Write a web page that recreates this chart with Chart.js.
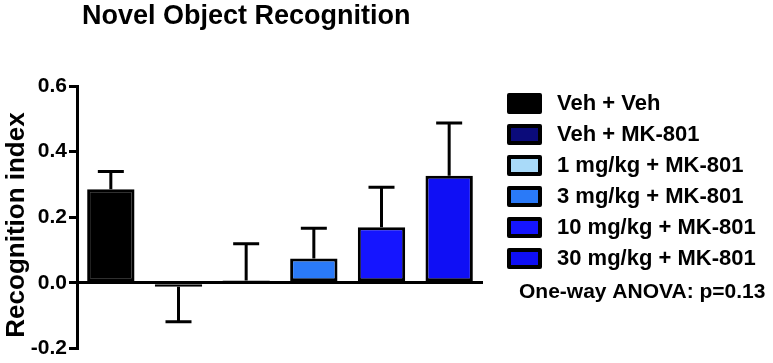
<!DOCTYPE html>
<html>
<head>
<meta charset="utf-8">
<script src="https://cdn.jsdelivr.net/npm/chart.js@4/dist/chart.umd.min.js"></script>
<style>
    html, body { margin: 0; padding: 0; background: #fff; }
    #wrap { width: 773px; height: 363px; position: relative; }
</style>
</head>
<body>
<div id="wrap"><canvas id="nor-chart"></canvas></div>
<script>
// Data
const groups = ['Veh + Veh', 'Veh + MK-801', '1 mg/kg + MK-801', '3 mg/kg + MK-801', '10 mg/kg + MK-801', '30 mg/kg + MK-801'];
const means = [0.285, -0.012, 0.007, 0.074, 0.169, 0.326];
const sems = [0.054, 0.107, 0.112, 0.092, 0.122, 0.161];
const barColors = ['#000000', '#0b0b7a', '#a9daf9', '#2a7af8', '#1515ff', '#0f0ff5'];
const yTicks = [-0.2, 0.0, 0.2, 0.4, 0.6];
const chartTitle = 'Novel Object Recognition';
const yLabel = 'Recognition index';
const statNote = 'One-way ANOVA: p=0.13';

const FONT = "'Liberation Sans', Arial, sans-serif";

// Draw one-sided SEM bars (up for positive means, down for negative)
const errorBars = {
    id: 'errorBars',
    afterDatasetsDraw(chart) {
        const ctx = chart.ctx;
        const y = chart.scales.y;
        const meta = chart.getDatasetMeta(0);
        ctx.save();
        ctx.strokeStyle = '#000';
        ctx.lineWidth = 3;
        ctx.lineCap = 'butt';
        meta.data.forEach((bar, i) => {
            const m = means[i];
            const end = m >= 0 ? m + sems[i] : m - sems[i];
            const y0 = y.getPixelForValue(m);
            const y1 = y.getPixelForValue(end);
            ctx.beginPath();
            ctx.moveTo(bar.x, y0);
            ctx.lineTo(bar.x, y1);
            ctx.moveTo(bar.x - 13, y1);
            ctx.lineTo(bar.x + 13, y1);
            ctx.stroke();
        });
        ctx.restore();
    }
};

// Title, y label, legend and stats note
const annotations = {
    id: 'annotations',
    afterDraw(chart) {
        const ctx = chart.ctx;
        ctx.save();
        ctx.fillStyle = '#000';
        ctx.font = `bold 27px ${FONT}`;
        ctx.textAlign = 'left';
        ctx.textBaseline = 'alphabetic';
        ctx.fillText(chartTitle, 82, 24);

        // rotated axis label
        ctx.save();
        ctx.translate(24, 225);
        ctx.rotate(-Math.PI / 2);
        ctx.textAlign = 'center';
        ctx.font = `bold 26px ${FONT}`;
        ctx.fillText(yLabel, 0, 0);
        ctx.restore();

        ctx.font = `bold 22px ${FONT}`;
        ctx.textBaseline = 'middle';
        groups.forEach((g, i) => {
            const top = 94 + i * 31;
            ctx.fillStyle = barColors[i];
            ctx.fillRect(509, top + 1, 31, 17);
            ctx.strokeStyle = '#000';
            ctx.lineWidth = 4;
            ctx.lineJoin = 'round';
            ctx.strokeRect(509, top + 1, 31, 17);
            ctx.fillStyle = '#000';
            ctx.fillText(g, 557, top + 10);
        });
        ctx.font = `bold 21px ${FONT}`;
        ctx.fillText(statNote, 519, 292);
        ctx.restore();
    }
};

new Chart(document.getElementById('nor-chart'), {
    type: 'bar',
    data: {
        labels: groups,
        datasets: [{
            data: means,
            backgroundColor: barColors,
            borderColor: '#000',
            borderWidth: 3,
            borderSkipped: false,
            categoryPercentage: 1.0,
            barPercentage: 0.7
        }]
    },
    options: {
        responsive: true,
        maintainAspectRatio: false,
        animation: false,
        layout: {
            padding: { top: 86, right: 290, bottom: 8, left: 0 }
        },
        plugins: {
            legend: { display: false },
            tooltip: { enabled: false }
        },
        scales: {
            x: { display: false },
            y: {
                min: -0.2,
                max: 0.6,
                afterBuildTicks: (scale) => {
                    scale.ticks = yTicks.map(v => ({ value: v }));
                },
                afterFit: (scale) => { scale.width = 77; },
                ticks: {
                    color: '#000',
                    font: { family: FONT, size: 21, weight: 'bold' },
                    padding: 2,
                    callback: (v) => Number(v).toFixed(1)
                },
                grid: {
                    color: (c) => (c.tick && c.tick.value === 0 ? '#000' : 'rgba(0,0,0,0)'),
                    lineWidth: 3,
                    tickColor: '#000',
                    tickLength: 8,
                    tickWidth: 3
                },
                border: { color: '#000', width: 3 }
            }
        }
    },
    plugins: [errorBars, annotations]
});
</script>
</body>
</html>
